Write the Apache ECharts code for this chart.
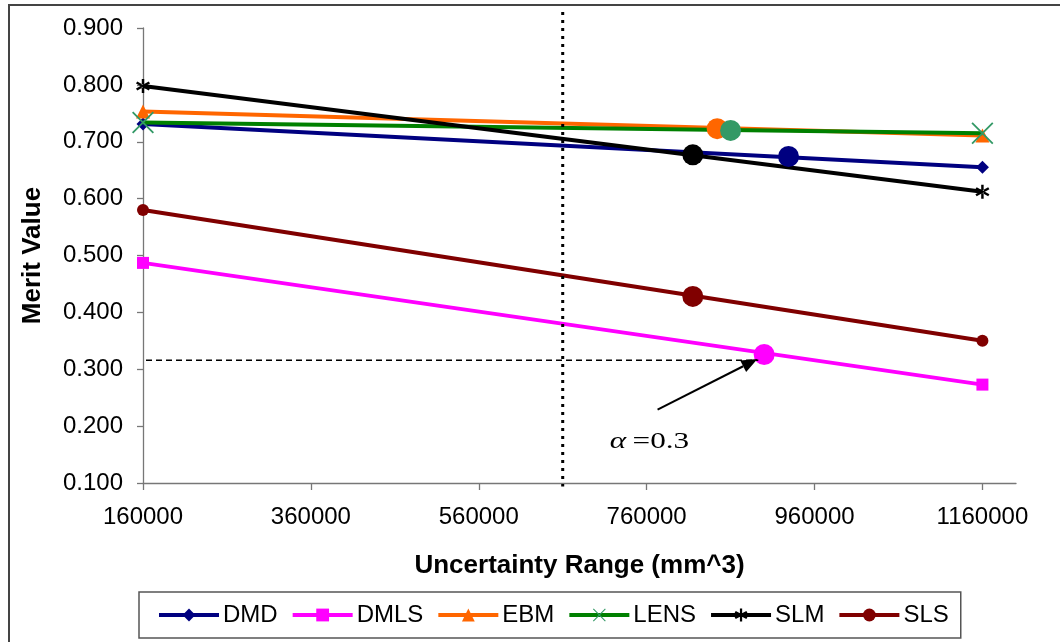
<!DOCTYPE html>
<html><head><meta charset="utf-8">
<script src="https://cdn.jsdelivr.net/npm/echarts@6/dist/echarts.min.js"></script>
<style>html,body{margin:0;padding:0;background:#fff}#c{width:1060px;height:642px}</style>
</head><body><div id="c"></div>
<script>
// ---- data ----
const xRange = [160000, 1160000];
const names = ['DMD', 'DMLS', 'EBM', 'LENS', 'SLM', 'SLS'];
const dmd  = [0.731, 0.655];
const dmls = [0.487, 0.273];
const ebm  = [0.753, 0.711];
const lens = [0.734, 0.715];
const slm  = [0.798, 0.612];
const sls  = [0.580, 0.350];
// highlighted points (alpha = 0.3) per series
const hlX = [929000, 900000, 844000, 860000, 815000, 815000];
const hlY = [0.674, 0.326, 0.723, 0.720, 0.677, 0.428];
const xTicks = [160000, 360000, 560000, 760000, 960000, 1160000];
const yTicks = [0.1, 0.2, 0.3, 0.4, 0.5, 0.6, 0.7, 0.8, 0.9];
const cutoffX = 660000;      // dotted vertical line
const cutoffY = [0.094, 0.928];
const alphaY = 0.316;        // dashed horizontal line
const alphaEndX = 893000;
const arrowFrom = [773000, 0.229];
const arrowTo = [892000, 0.318];
const labelPos = [716000, 0.172];

// ---- styles ----
const FONT = 'Liberation Sans, Arial, sans-serif';
const SERIF = 'Liberation Serif, Times New Roman, serif';
const lineColors = ['#000080', '#FF00FF', '#FF6600', '#008000', '#000000', '#800000'];
const markColors = ['#000080', '#FF00FF', '#FF6600', '#339966', '#000000', '#800000'];
const asterisk = 'path://M-1,-6L1,-6L1,6L-1,6Z M4.696,3.866L5.696,2.134L-4.696,-3.866L-5.696,-2.134Z M-5.696,2.134L-4.696,3.866L5.696,-2.134L4.696,-3.866Z';
const cross = 'path://M-6,-5.3L-5.3,-6L6,5.3L5.3,6Z M5.3,-6L6,-5.3L-5.3,6L-6,5.3Z';
const symbols = ['diamond', 'rect', 'triangle', cross, asterisk, 'circle'];
const sizes = [13, 12, 14, 22, 14, 12];
const values = [dmd, dmls, ebm, lens, slm, sls];

const series = names.map((n, i) => ({
  name: n, type: 'line',
  data: xRange.map((x, j) => [x, values[i][j]]),
  symbol: symbols[i], symbolSize: sizes[i], showAllSymbol: true,
  lineStyle: { color: lineColors[i], width: 4 },
  itemStyle: { color: markColors[i], opacity: 1 },
  color: markColors[i],
  z: 2 + i * 0.01, animation: false, silent: true
}));
series.push({
  type: 'scatter', name: 'highlight', symbol: 'circle', symbolSize: 21, z: 5,
  data: hlX.map((x, i) => ({ value: [x, hlY[i]], itemStyle: { color: markColors[i], opacity: 1 } })),
  itemStyle: { opacity: 1 },
  animation: false, silent: true
});

const option = {
  backgroundColor: '#fff',
  animation: false,
  grid: { left: 143, right: 44, top: 28, bottom: 159, containLabel: false },
  xAxis: {
    type: 'value', min: 160000, max: 1200000,
    splitLine: { show: false },
    axisLine: { lineStyle: { color: '#777', width: 1.3 } },
    axisTick: { show: true, length: 7, lineStyle: { color: '#777', width: 1.3 }, customValues: xTicks },
    axisLabel: { customValues: xTicks, color: '#000', fontSize: 24, fontFamily: FONT, margin: 22, formatter: v => String(v) },
    name: 'Uncertainty Range (mm^3)', nameLocation: 'middle', nameGap: 70,
    nameTextStyle: { color: '#000', fontSize: 26, fontWeight: 'bold', fontFamily: FONT }
  },
  yAxis: {
    type: 'value', min: 0.1, max: 0.9,
    splitLine: { show: false },
    axisLine: { show: true, lineStyle: { color: '#777', width: 1.3 } },
    axisTick: { show: true, length: 6, lineStyle: { color: '#777', width: 1.3 }, customValues: yTicks },
    axisLabel: { customValues: yTicks, color: '#000', fontSize: 24, fontFamily: FONT, margin: 20, formatter: v => v.toFixed(3) },
    name: 'Merit Value', nameLocation: 'middle', nameGap: 97, nameRotate: 90,
    nameTextStyle: { color: '#000', fontSize: 26, fontWeight: 'bold', fontFamily: FONT }
  },
  legend: {
    data: names, left: 139, top: 592, orient: 'horizontal',
    padding: [11, 12, 11, 18], itemWidth: 60, itemHeight: 16, itemGap: 13,
    borderColor: '#555', borderWidth: 1.5, borderRadius: 0,
    lineStyle: { width: 4 },
    textStyle: { color: '#000', fontSize: 24, fontFamily: FONT, padding: [0, 0, 0, -1] },
    selectedMode: false
  },
  series: series
};

const chart = echarts.init(document.getElementById('c'), null, { renderer: 'canvas' });
chart.setOption(option);

const px = (x, y) => chart.convertToPixel({ gridIndex: 0 }, [x, y]);
const vTop = px(cutoffX, cutoffY[1]), vBot = px(cutoffX, cutoffY[0]);
const hL = px(160000, alphaY), hR = px(alphaEndX, alphaY);
const a0 = px(arrowFrom[0], arrowFrom[1]), a1 = px(arrowTo[0], arrowTo[1]);
const dx = a1[0] - a0[0], dy = a1[1] - a0[1], len = Math.hypot(dx, dy);
const ux = dx / len, uy = dy / len, nx = -uy, ny = ux;
const hl = 16, hw = 6.5;
const base = [a1[0] - ux * hl, a1[1] - uy * hl];
const lp = px(labelPos[0], labelPos[1]);

chart.setOption({
  graphic: [
    { type: 'rect', shape: { x: 9, y: 5, width: 1100, height: 700 }, style: { fill: 'none', stroke: '#444', lineWidth: 2 }, z: 0, silent: true },
    { type: 'line', shape: { x1: vTop[0], y1: vTop[1], x2: vBot[0], y2: vBot[1] }, style: { stroke: '#000', lineWidth: 3, lineDash: [3, 5] }, z: 10, silent: true },
    { type: 'line', shape: { x1: hL[0] + 3, y1: hL[1], x2: hR[0], y2: hR[1] }, style: { stroke: '#000', lineWidth: 1.5, lineDash: [6, 4] }, z: 10, silent: true },
    { type: 'line', shape: { x1: a0[0], y1: a0[1], x2: base[0], y2: base[1] }, style: { stroke: '#000', lineWidth: 2 }, z: 10, silent: true },
    { type: 'polygon', shape: { points: [a1, [base[0] + nx * hw, base[1] + ny * hw], [base[0] - nx * hw, base[1] - ny * hw]] }, style: { fill: '#000' }, z: 10, silent: true },
    { type: 'text', x: lp[0], y: lp[1], scaleX: 1.3, z: 10, silent: true,
      style: { text: '{a|α}{b|=0.3}', verticalAlign: 'middle', align: 'left',
        rich: { a: { fontFamily: SERIF, fontStyle: 'italic', fontSize: 24, fill: '#000' },
                b: { fontFamily: SERIF, fontSize: 24, fill: '#000', padding: [0, 0, 0, 5] } } } }
  ]
});
</script></body></html>
